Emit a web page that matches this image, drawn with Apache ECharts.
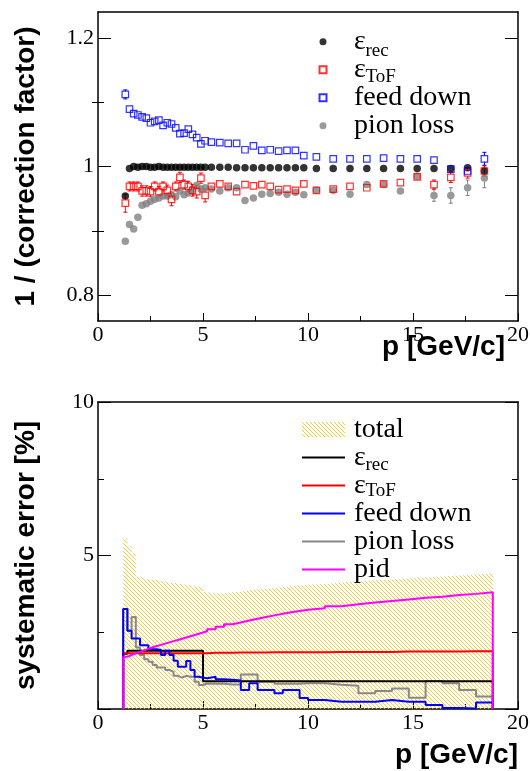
<!DOCTYPE html>
<html>
<head>
<meta charset="utf-8">
<script src="https://cdn.jsdelivr.net/npm/echarts@6/dist/echarts.min.js"></script>
<style>
  html, body { margin: 0; padding: 0; background: #fff; }
  #chart { width: 530px; height: 771px; }
</style>
</head>
<body>
<div id="chart"></div>
<script>
// bin centres (top panel points) and bin edges (bottom panel histograms), GeV/c
const centers = [1.3, 1.5, 1.7, 1.9, 2.1, 2.3, 2.5, 2.7, 2.9, 3.1, 3.3, 3.5, 3.7, 3.9, 4.1, 4.3, 4.5, 4.7, 4.9, 5.1,
                 5.4, 5.8, 6.2, 6.6, 7.0, 7.4, 7.8, 8.2, 8.6, 9.0, 9.4, 9.8,
                 10.4, 11.2, 12.0, 12.8, 13.6, 14.4, 15.2, 16.0, 16.8, 17.6, 18.4];
const edges = [1.2, 1.4, 1.6, 1.8, 2.0, 2.2, 2.4, 2.6, 2.8, 3.0, 3.2, 3.4, 3.6, 3.8, 4.0, 4.2, 4.4, 4.6, 4.8, 5.0, 5.2,
               5.6, 6.0, 6.4, 6.8, 7.2, 7.6, 8.0, 8.4, 8.8, 9.2, 9.6, 10.0,
               10.8, 11.6, 12.4, 13.2, 14.0, 14.8, 15.6, 16.4, 17.2, 18.0, 18.8];

// top panel: 1 / (correction factor)
const effRec = [0.954, 0.997, 1.000, 0.999, 1.000, 1.000, 0.999, 0.999, 1.000, 0.999, 0.999, 0.999, 0.999, 0.999, 0.999, 0.999, 0.999, 0.999, 0.999, 0.999,
                0.999, 0.999, 0.999, 0.998, 0.998, 0.998, 0.998, 0.998, 0.998, 0.998, 0.998, 0.998,
                0.997, 0.997, 0.997, 0.997, 0.997, 0.997, 0.997, 0.997, 0.997, 0.998, 0.993];
const effRecErr = [0.005, 0.002, 0.002, 0.002, 0.002, 0.002, 0.002, 0.002, 0.002, 0.002, 0.002, 0.002, 0.002, 0.002, 0.002, 0.002, 0.002, 0.002, 0.002, 0.002,
                   0.002, 0.002, 0.002, 0.002, 0.002, 0.002, 0.002, 0.002, 0.002, 0.002, 0.002, 0.002,
                   0.002, 0.002, 0.002, 0.002, 0.002, 0.002, 0.002, 0.002, 0.003, 0.003, 0.004];
const effTof = [0.943, 0.969, 0.969, 0.969, 0.962, 0.962, 0.961, 0.969, 0.961, 0.969, 0.963, 0.949, 0.969, 0.983, 0.972, 0.969, 0.963, 0.961, 0.982, 0.955,
                0.969, 0.973, 0.969, 0.961, 0.972, 0.970, 0.972, 0.969, 0.964, 0.965, 0.963, 0.973,
                0.963, 0.965, 0.969, 0.967, 0.973, 0.975, 0.984, 0.972, 0.983, 0.990, 0.993];
const effTofErr = [0.014, 0.007, 0.007, 0.007, 0.008, 0.008, 0.008, 0.007, 0.008, 0.007, 0.008, 0.010, 0.007, 0.008, 0.007, 0.008, 0.009, 0.010, 0.008, 0.010,
                   0.005, 0.005, 0.004, 0.004, 0.004, 0.004, 0.004, 0.004, 0.004, 0.004, 0.004, 0.004,
                   0.004, 0.004, 0.004, 0.004, 0.004, 0.004, 0.004, 0.007, 0.008, 0.008, 0.008];
const feedDown = [1.112, 1.089, 1.082, 1.080, 1.077, 1.075, 1.068, 1.070, 1.072, 1.064, 1.068, 1.066, 1.060, 1.051, 1.052, 1.058, 1.050, 1.045, 1.035, 1.040,
                  1.038, 1.037, 1.036, 1.036, 1.026, 1.032, 1.025, 1.026, 1.024, 1.025, 1.025, 1.017,
                  1.015, 1.012, 1.012, 1.012, 1.013, 1.012, 1.012, 1.010, 0.996, 0.993, 1.012];
const feedDownErr = [0.007, 0.002, 0.002, 0.002, 0.002, 0.002, 0.002, 0.002, 0.002, 0.002, 0.002, 0.002, 0.002, 0.002, 0.002, 0.002, 0.002, 0.002, 0.002, 0.002,
                     0.002, 0.002, 0.002, 0.002, 0.002, 0.002, 0.002, 0.002, 0.002, 0.002, 0.002, 0.002,
                     0.002, 0.002, 0.002, 0.002, 0.002, 0.002, 0.002, 0.003, 0.004, 0.004, 0.010];
const pionLoss = [0.884, 0.910, 0.903, 0.921, 0.940, 0.942, 0.946, 0.949, 0.951, 0.954, 0.954, 0.956, 0.953, 0.962, 0.956, 0.959, 0.964, 0.971, 0.965, 0.967,
                  0.965, 0.962, 0.967, 0.967, 0.947, 0.951, 0.957, 0.958, 0.960, 0.957, 0.960, 0.956,
                  0.963, 0.963, 0.957, 0.972, 0.972, 0.962, 0.985, 0.955, 0.955, 0.967, 0.982];
const pionLossErr = [0.007, 0.003, 0.003, 0.003, 0.003, 0.003, 0.003, 0.003, 0.003, 0.003, 0.003, 0.003, 0.003, 0.003, 0.003, 0.003, 0.003, 0.003, 0.003, 0.003,
                     0.003, 0.003, 0.003, 0.003, 0.003, 0.003, 0.003, 0.003, 0.003, 0.003, 0.003, 0.003,
                     0.003, 0.003, 0.003, 0.003, 0.003, 0.003, 0.003, 0.009, 0.012, 0.012, 0.015];

// bottom panel: systematic error [%] per bin
const sysTotal = [5.56, 5.30, 5.07, 4.31, 4.30, 4.22, 4.21, 4.20, 4.17, 4.15, 4.12, 4.11, 4.10, 4.06, 4.05, 4.04, 4.00, 3.98, 3.96, 3.80,
                  3.76, 3.77, 3.80, 3.82, 3.88, 3.90, 3.92, 3.94, 3.97, 4.00, 4.02, 4.05,
                  4.07, 4.12, 4.16, 4.19, 4.22, 4.25, 4.29, 4.32, 4.35, 4.38, 4.42];
const sysRec = [1.80, 1.90, 1.90, 1.90, 1.90, 1.90, 1.90, 1.90, 1.90, 1.90, 1.90, 1.90, 1.90, 1.90, 1.90, 1.90, 1.90, 1.90, 1.90, 0.90,
                0.90, 0.90, 0.90, 0.90, 0.90, 0.90, 0.90, 0.90, 0.90, 0.90, 0.90, 0.90,
                0.90, 0.90, 0.90, 0.90, 0.90, 0.90, 0.90, 0.90, 0.90, 0.90, 0.90];
const sysTof = [1.82, 1.82, 1.82, 1.82, 1.82, 1.82, 1.82, 1.82, 1.82, 1.82, 1.82, 1.82, 1.82, 1.82, 1.82, 1.82, 1.82, 1.82, 1.82, 1.82,
                1.83, 1.83, 1.83, 1.84, 1.84, 1.84, 1.84, 1.85, 1.85, 1.85, 1.85, 1.85,
                1.85, 1.86, 1.86, 1.86, 1.86, 1.87, 1.87, 1.87, 1.87, 1.88, 1.88];
const sysFeed = [3.26, 2.55, 2.30, 2.30, 2.08, 2.08, 1.95, 1.95, 1.92, 1.76, 1.90, 1.76, 1.57, 1.38, 1.38, 1.56, 1.27, 1.05, 1.02, 1.00,
                 1.05, 0.97, 0.95, 0.93, 0.62, 0.84, 0.62, 0.62, 0.51, 0.62, 0.62, 0.36,
                 0.29, 0.24, 0.24, 0.24, 0.29, 0.24, 0.24, 0.13, 0.03, 0.02, 0.21];
const sysPion = [3.26, 2.55, 3.00, 2.00, 1.76, 1.62, 1.54, 1.43, 1.35, 1.35, 1.27, 1.21, 1.08, 1.02, 1.08, 1.05, 1.05, 0.89, 0.78, 0.83,
                 0.82, 0.82, 0.80, 0.80, 1.12, 1.12, 0.89, 0.89, 0.82, 0.82, 0.82, 0.84,
                 0.84, 0.79, 0.76, 0.51, 0.59, 0.67, 0.37, 0.91, 0.84, 0.62, 0.41];
const sysPid = [1.70, 1.76, 1.81, 1.86, 1.91, 1.96, 2.01, 2.05, 2.09, 2.13, 2.17, 2.21, 2.25, 2.29, 2.33, 2.37, 2.41, 2.45, 2.49, 2.53,
                2.60, 2.68, 2.76, 2.82, 2.88, 2.94, 3.00, 3.05, 3.10, 3.15, 3.19, 3.23,
                3.28, 3.35, 3.41, 3.47, 3.52, 3.57, 3.62, 3.66, 3.71, 3.75, 3.80];

const topTicks = [0.8, 1, 1.2];
const topMinorTicks = [0.9, 1.1];

const SERIF = 'Liberation Serif';
const SANS = 'Liberation Sans';

// legend geometry (rows are 26px apart)
const ROW = 26;
const topLegendTop = 27.7;
const botLegendTop = 415.5;

// hatch pattern for the "total" band (ROOT style \\\ lines)
function makeHatch() {
    const c = document.createElement('canvas');
    c.width = 4; c.height = 4;
    const g = c.getContext('2d');
    g.strokeStyle = '#f7c000';
    g.lineWidth = 0.8;
    g.beginPath();
    g.moveTo(-1, -1); g.lineTo(5, 5);
    g.moveTo(-1, 3); g.lineTo(1, 5);
    g.moveTo(3, -1); g.lineTo(5, 1);
    g.stroke();
    return c;
}
const hatch = { image: makeHatch(), repeat: 'repeat' };

// step histogram: drops to 0 at both outer edges
function stepData(vals) {
    const last = edges.length - 1;
    const d = [[edges[0], 0]];
    vals.forEach((v, i) => d.push([edges[i], v]));
    d.push([edges[last], vals[vals.length - 1]]);
    d.push([edges[last], 0]);
    return d;
}

// vertical error bars with small caps, starting at the marker edge
function errorBars(vals, errs, color, gap) {
    return {
        type: 'custom',
        xAxisIndex: 0, yAxisIndex: 0,
        silent: true,
        data: centers.map((c, i) => [c, vals[i], errs[i]]),
        renderItem: (params, api) => {
            const x = api.value(0), y = api.value(1), e = api.value(2);
            const p = api.coord([x, y]);
            const hi = api.coord([x, y + e]);
            const lo = api.coord([x, y - e]);
            const st = { stroke: color, lineWidth: 1 };
            const kids = [];
            if (p[1] - hi[1] > gap + 1) {
                kids.push({ type: 'line', shape: { x1: p[0], y1: p[1] - gap, x2: p[0], y2: hi[1] }, style: st });
                kids.push({ type: 'line', shape: { x1: p[0] - 2, y1: hi[1], x2: p[0] + 2, y2: hi[1] }, style: st });
            }
            if (lo[1] - p[1] > gap + 1) {
                kids.push({ type: 'line', shape: { x1: p[0], y1: p[1] + gap, x2: p[0], y2: lo[1] }, style: st });
                kids.push({ type: 'line', shape: { x1: p[0] - 2, y1: lo[1], x2: p[0] + 2, y2: lo[1] }, style: st });
            }
            return { type: 'group', children: kids };
        }
    };
}

function points(name, vals, symbol, color, filled) {
    return {
        name: name,
        type: 'scatter',
        xAxisIndex: 0, yAxisIndex: 0,
        symbol: symbol,
        symbolSize: filled ? 7.5 : 6.5,
        itemStyle: filled
            ? { color: color }
            : { color: 'rgba(0,0,0,0)', borderColor: color, borderWidth: 1.2 },
        data: centers.map((c, i) => [c, vals[i]])
    };
}

function hist(name, vals, color) {
    return {
        name: name,
        type: 'line',
        xAxisIndex: 2, yAxisIndex: 4,
        step: 'end',
        symbol: 'none',
        color: color,
        lineStyle: { color: color, width: 2 },
        data: stepData(vals)
    };
}

const legendText = {
    rec1: 'ε', tof1: 'ε', fd1: 'feed down', pl1: 'pion loss',
    tot2: 'total', rec2: 'ε', tof2: 'ε', fd2: 'feed down', pl2: 'pion loss', pid2: 'pid'
};
const legendFont = { fontFamily: SERIF, fontSize: 28, lineHeight: ROW, color: '#000' };

// subscripts of the two epsilons, placed under the legend rows
function subscript(text, legendTop, row) {
    return {
        type: 'text',
        x: 365.5,
        y: legendTop + ROW / 2 + ROW * row + 10.8,
        style: { text: text, fontFamily: SERIF, fontSize: 19, fill: '#000', verticalAlign: 'middle', align: 'left' }
    };
}

const labelStyle = { fontFamily: SERIF, fontSize: 22, color: '#000' };
const titleStyle = { fontFamily: SANS, fontWeight: 'bold', fontSize: 28, lineHeight: 28, color: '#000' };
const frameLine = { show: true, onZero: false, lineStyle: { color: '#000', width: 1.5 } };

function xAxisBottom(grid, padTop, gapEnd) {
    return {
        type: 'value', gridIndex: grid, position: 'bottom',
        min: 0, max: 20, interval: 5,
        axisLine: frameLine,
        axisTick: { inside: true, length: 8, lineStyle: { color: '#000', width: 1 } },
        minorTick: { show: true, splitNumber: 2, length: 5, lineStyle: { color: '#000', width: 1 } },
        axisLabel: Object.assign({ margin: 3 }, labelStyle),
        splitLine: { show: false },
        name: 'p [GeV/c]', nameLocation: 'end', nameGap: gapEnd, nameMoveOverlap: false,
        nameTextStyle: Object.assign({ align: 'right', verticalAlign: 'top', padding: [padTop, 0, 0, 0] }, titleStyle)
    };
}
function xAxisTop(grid) {
    return {
        type: 'value', gridIndex: grid, position: 'top', min: 0, max: 20,
        axisLine: frameLine, axisTick: { show: false }, axisLabel: { show: false }, splitLine: { show: false }
    };
}
function yTicks(grid, pos, values, len, min, max, line) {
    return {
        type: 'value', gridIndex: grid, position: pos, min: min, max: max,
        axisLine: line ? frameLine : { show: false },
        axisTick: { inside: true, length: len, customValues: values, lineStyle: { color: '#000', width: 1 } },
        axisLabel: { show: false }, splitLine: { show: false }
    };
}

const chart = echarts.init(document.getElementById('chart'));

chart.setOption({
    animation: false,
    backgroundColor: '#fff',
    grid: [
        { left: 98, top: 12, width: 420, height: 309, outerBoundsMode: 'none' },
        { left: 98, top: 402, width: 420, height: 307, outerBoundsMode: 'none' }
    ],
    xAxis: [
        xAxisBottom(0, 12, -13),
        xAxisTop(0),
        xAxisBottom(1, 32, 0),
        xAxisTop(1)
    ],
    yAxis: [
        {
            type: 'value', gridIndex: 0, position: 'left', min: 0.76, max: 1.24,
            axisLine: frameLine,
            axisTick: { inside: true, length: 13, customValues: topTicks, lineStyle: { color: '#000', width: 1 } },
            axisLabel: Object.assign({ margin: 4, customValues: topTicks }, labelStyle),
            splitLine: { show: false },
            name: '1 / (correction factor)', nameLocation: 'middle', nameGap: 58, nameRotate: 90,
            nameTextStyle: titleStyle
        },
        yTicks(0, 'left', topMinorTicks, 6, 0.76, 1.24, false),
        yTicks(0, 'right', topTicks, 13, 0.76, 1.24, true),
        yTicks(0, 'right', topMinorTicks, 6, 0.76, 1.24, false),
        {
            type: 'value', gridIndex: 1, position: 'left', min: 0, max: 10, interval: 5,
            axisLine: frameLine,
            axisTick: { inside: true, length: 13, lineStyle: { color: '#000', width: 1 } },
            minorTick: { show: true, splitNumber: 2, length: 6, lineStyle: { color: '#000', width: 1 } },
            axisLabel: Object.assign({ margin: 4, formatter: v => (v === 0 ? '' : String(v)) }, labelStyle),
            splitLine: { show: false },
            name: 'systematic error [%]', nameLocation: 'middle', nameGap: 58, nameRotate: 90,
            nameTextStyle: titleStyle
        },
        {
            type: 'value', gridIndex: 1, position: 'right', min: 0, max: 10, interval: 5,
            axisLine: frameLine,
            axisTick: { inside: true, length: 13, lineStyle: { color: '#000', width: 1 } },
            minorTick: { show: true, splitNumber: 2, length: 6, lineStyle: { color: '#000', width: 1 } },
            axisLabel: { show: false }, splitLine: { show: false }
        }
    ],
    legend: [
        {
            orient: 'vertical', left: 318.5, top: topLegendTop, padding: 0, itemGap: 0,
            itemWidth: 7, itemHeight: 7, selectedMode: false,
            data: ['rec1', 'tof1', 'fd1', 'pl1'],
            formatter: name => legendText[name],
            textStyle: Object.assign({ padding: [0, 0, 0, 22.5] }, legendFont)
        },
        {
            orient: 'vertical', left: 301, top: botLegendTop, padding: 0, itemGap: 0,
            itemWidth: 43, itemHeight: 15, selectedMode: false,
            itemStyle: { color: 'rgba(0,0,0,0)', borderWidth: 0 },
            data: [
                { name: 'tot2', icon: 'rect', itemStyle: { color: hatch, borderWidth: 0 } },
                'rec2', 'tof2', 'fd2', 'pl2', 'pid2'
            ],
            formatter: name => legendText[name],
            textStyle: Object.assign({ padding: [0, 0, 0, 4] }, legendFont)
        }
    ],
    graphic: [
        subscript('rec', topLegendTop, 0),
        subscript('ToF', topLegendTop, 1),
        subscript('rec', botLegendTop, 1),
        subscript('ToF', botLegendTop, 2)
    ],
    series: [
        // top panel
        points('pl1', pionLoss, 'circle', '#808080', true),
        errorBars(pionLoss, pionLossErr, '#808080', 3.7),
        points('rec1', effRec, 'circle', '#000', true),
        errorBars(effRec, effRecErr, '#000', 3.7),
        points('tof1', effTof, 'rect', '#ff0000', false),
        errorBars(effTof, effTofErr, '#ff0000', 3.2),
        points('fd1', feedDown, 'rect', '#0000ff', false),
        errorBars(feedDown, feedDownErr, '#0000ff', 3.2),
        // bottom panel
        {
            name: 'tot2',
            type: 'line',
            xAxisIndex: 2, yAxisIndex: 4,
            step: 'end',
            symbol: 'none',
            color: '#f5c000',
            lineStyle: { width: 0, opacity: 0 },
            areaStyle: { color: hatch, opacity: 1 },
            data: stepData(sysTotal)
        },
        hist('pl2', sysPion, '#888888'),
        hist('rec2', sysRec, '#000000'),
        hist('tof2', sysTof, '#ff0000'),
        hist('fd2', sysFeed, '#0000ff'),
        hist('pid2', sysPid, '#ff00ff')
    ]
});
</script>
</body>
</html>
